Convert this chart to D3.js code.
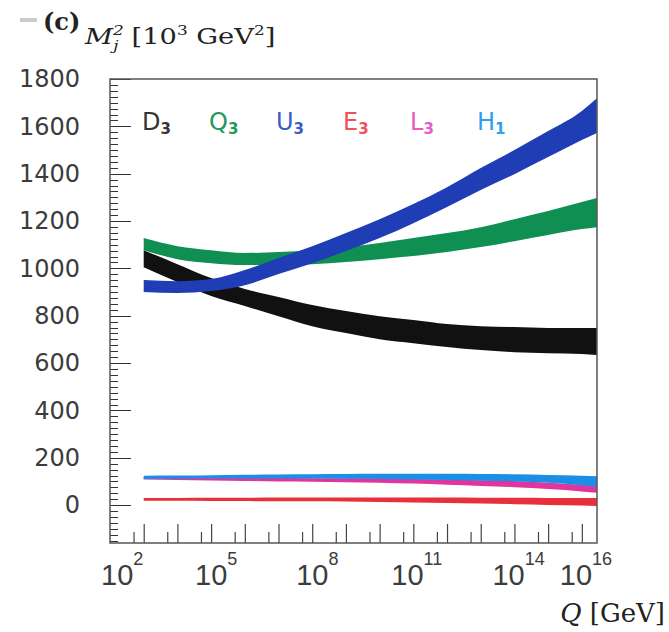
<!DOCTYPE html>
<html>
<head>
<meta charset="utf-8">
<script src="https://cdn.jsdelivr.net/npm/d3@7"></script>
<style>
  body { margin: 0; background: #fff; }
  svg { display: block; }
</style>
</head>
<body>
<div id="chart"></div>
<script>
// renormalisation scale Q [GeV] at which the band edges were read
const Q = [1e3, 1e4, 1e5, 1e6, 1e7, 1e8, 1e9, 1e10, 1e11, 1e12, 1e13, 1e14, 1e15, 1e16, 2.8e16];

// M_j^2 bands [10^3 GeV^2], lower / upper edge
const D3_lo = [1005, 942, 883, 841, 798, 756, 727, 701, 684, 668, 655, 646, 642, 638, 634];
const D3_hi = [1077, 1018, 959, 913, 879, 845, 820, 798, 782, 765, 756, 752, 748, 748, 748];
const Q3_lo = [1077, 1039, 1022, 1014, 1014, 1018, 1027, 1039, 1052, 1069, 1090, 1115, 1141, 1166, 1174];
const Q3_hi = [1128, 1094, 1077, 1065, 1069, 1077, 1090, 1107, 1128, 1149, 1174, 1208, 1242, 1280, 1297];
const U3_lo = [900, 896, 904, 929, 976, 1022, 1073, 1128, 1191, 1259, 1331, 1398, 1470, 1542, 1572];
const U3_hi = [951, 946, 955, 993, 1044, 1094, 1149, 1208, 1272, 1343, 1424, 1500, 1580, 1665, 1719];
const E3_lo = [18, 18, 17, 17, 16, 16, 15, 13, 11, 9, 7, 4, 1, -2, -4];
const E3_hi = [30, 30, 31, 31, 32, 32, 32, 32, 32, 32, 31, 31, 30, 30, 30];
const L3_lo = [108, 106, 104, 102, 100, 99, 97, 95, 91, 86, 81, 76, 68, 58, 52];
const L3_hi = [118, 118, 117, 116, 115, 114, 113, 112, 110, 108, 105, 102, 95, 86, 82];
const H1_lo = [110, 111, 112, 112, 112, 112, 111, 110, 108, 106, 103, 100, 94, 84, 78];
const H1_hi = [124, 125, 126, 128, 129, 130, 131, 132, 132, 132, 131, 130, 127, 124, 122];

const yMajor = [0, 200, 400, 600, 800, 1000, 1200, 1400, 1600, 1800];
const xLabelExp = [2, 5, 8, 11, 14, 16];

// drawing order: bottom first
const bands = [
  {name: 'E', lo: E3_lo, hi: E3_hi, color: '#e8303a'},
  {name: 'L', lo: L3_lo, hi: L3_hi, color: '#e0359f'},
  {name: 'H', lo: H1_lo, hi: H1_hi, color: '#1b8fe6'},
  {name: 'D', lo: D3_lo, hi: D3_hi, color: '#111111'},
  {name: 'Q', lo: Q3_lo, hi: Q3_hi, color: '#0f8f52'},
  {name: 'U', lo: U3_lo, hi: U3_hi, color: '#1f3db4'}
];
const legendItems = [
  {base: 'D', sub: '3', color: '#333333'},
  {base: 'Q', sub: '3', color: '#23995a'},
  {base: 'U', sub: '3', color: '#3b5cc4'},
  {base: 'E', sub: '3', color: '#f0505a'},
  {base: 'L', sub: '3', color: '#e65cc2'},
  {base: 'H', sub: '1', color: '#2ea0ee'}
];

const W = 669, H = 632;
const mLeft = 110, mRight = 597, mTop = 79, mBottom = 543;

const svg = d3.select('#chart').append('svg')
  .attr('width', W).attr('height', H);

const x = d3.scaleLog().domain([1e2, Math.pow(10, 16.45)]).range([mLeft, mRight]);
const y = d3.scaleLinear().domain([-160, 1800]).range([mBottom, mTop]);

// bands
const plot = svg.append('g');
bands.forEach(b => {
  const area = d3.area()
    .x((d, i) => x(Q[i]))
    .y0((d, i) => y(b.lo[i]))
    .y1((d, i) => y(b.hi[i]))
    .curve(d3.curveMonotoneX);
  plot.append('path')
    .attr('d', area(Q))
    .attr('fill', b.color);
});

// y ticks, pointing into the frame
const axisColor = '#555';
const yMinor = d3.range(-150, 1800, 25);
const yt = svg.append('g')
  .attr('stroke', '#333')
  .attr('stroke-width', 1.6)
  .attr('shape-rendering', 'crispEdges');
yt.selectAll('line.minor')
  .data(yMinor)
  .join('line')
    .attr('class', 'minor')
    .attr('x1', mLeft).attr('x2', mLeft + 8)
    .attr('y1', d => Math.round(y(d)) + 0.5).attr('y2', d => Math.round(y(d)) + 0.5);
yt.selectAll('line.major')
  .data(yMajor)
  .join('line')
    .attr('class', 'major')
    .attr('x1', mLeft).attr('x2', mLeft + 21)
    .attr('y1', d => Math.round(y(d)) + 0.5).attr('y2', d => Math.round(y(d)) + 0.5);
svg.append('g')
  .attr('transform', `translate(${mLeft},0)`)
  .call(d3.axisLeft(y).tickValues(yMajor).tickSize(0).tickPadding(30).tickFormat(d3.format('d')))
  .call(g => g.select('.domain').remove())
  .call(g => g.selectAll('text')
    .attr('font-family', 'DejaVu Sans, sans-serif')
    .attr('font-size', 24)
    .attr('fill', '#3c3c3c'));

const xMajor = d3.range(3, 17).map(e => Math.pow(10, e));
const xMinor = d3.range(2, 16).map(e => 5 * Math.pow(10, e));
svg.append('g')
  .attr('transform', `translate(0,${mBottom})`)
  .call(d3.axisTop(x).tickValues(xMinor).tickSize(11).tickFormat(''))
  .call(g => g.select('.domain').remove());
svg.append('g')
  .attr('transform', `translate(0,${mBottom})`)
  .call(d3.axisTop(x).tickValues(xMajor).tickSize(19).tickFormat(''))
  .call(g => g.select('.domain').remove());
svg.selectAll('.tick line').attr('stroke', '#444').attr('stroke-width', 1.2);

// decade labels 10^n
const xl = svg.append('g');
xLabelExp.forEach(e => {
  const t = xl.append('text')
    .attr('x', x(Math.pow(10, e)) - 16 + (e === 2 ? 7 : 0) - (e >= 11 ? 6 : 0))
    .attr('y', 585)
    .attr('font-family', 'Liberation Sans, Arial, sans-serif')
    .attr('font-size', 29)
    .attr('fill', '#3c3c3c');
  t.append('tspan').text('10');
  t.append('tspan').attr('dy', -20).attr('font-size', 18).text(e);
});

// frame
svg.append('rect')
  .attr('x', mLeft).attr('y', mTop)
  .attr('width', mRight - mLeft).attr('height', mBottom - mTop)
  .attr('fill', 'none').attr('stroke', axisColor).attr('stroke-width', 1.5);

// legend
const leg = svg.append('g')
  .attr('font-family', 'DejaVu Sans, sans-serif');
legendItems.forEach((d, i) => {
  const t = leg.append('text')
    .attr('x', 142 + i * 67)
    .attr('y', 130)
    .attr('font-size', 24)
    .attr('fill', d.color);
  t.append('tspan').text(d.base);
  t.append('tspan').attr('dy', 4).attr('font-size', 15).attr('font-weight', 'bold').text(d.sub);
});

// title
const serif = 'DejaVu Serif, Liberation Serif, serif';
svg.append('rect').attr('x', 20).attr('y', 18).attr('width', 17).attr('height', 4).attr('fill', '#ccc');
svg.append('text')
  .attr('x', 43).attr('y', 30)
  .attr('font-family', serif).attr('font-weight', 'bold').attr('font-size', 24)
  .attr('fill', '#222')
  .text('(c)');
const tt = svg.append('text')
  .attr('transform', 'translate(85,44) scale(1.3,1.05)')
  .attr('font-family', serif).attr('font-size', 21).attr('fill', '#222');
tt.append('tspan').attr('font-style', 'italic').text('M');
tt.append('tspan').attr('font-style', 'italic').attr('font-size', 13).attr('dy', -9).text('2');
tt.append('tspan').attr('font-style', 'italic').attr('font-size', 13).attr('dx', -8).attr('dy', 15).text('j');
tt.append('tspan').attr('dx', 10).attr('dy', -6).text('[10');
tt.append('tspan').attr('font-size', 13).attr('dy', -9).text('3');
tt.append('tspan').attr('dy', 9).text(' GeV');
tt.append('tspan').attr('font-size', 13).attr('dy', -9).text('2');
tt.append('tspan').attr('dy', 9).text(']');

// x axis title
const xt = svg.append('text')
  .attr('x', 665).attr('y', 622)
  .attr('text-anchor', 'end')
  .attr('font-family', serif).attr('font-size', 26).attr('fill', '#222');
xt.append('tspan').attr('font-style', 'italic').text('Q');
xt.append('tspan').text(' [GeV]');
</script>
</body>
</html>
